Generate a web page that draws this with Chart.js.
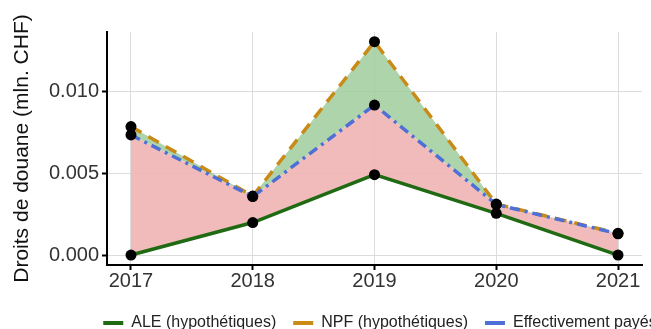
<!DOCTYPE html>
<html>
<head>
<meta charset="utf-8">
<script src="https://cdn.jsdelivr.net/npm/chart.js@4/dist/chart.umd.min.js"></script>
<style>
  html, body { margin: 0; padding: 0; background: #fff; overflow: hidden; width: 651px; height: 329px; }
  #wrap { position: absolute; left: 0; top: 0; width: 760px; height: 341px; }
</style>
</head>
<body>
<div id="wrap"><canvas id="c" width="760" height="341"></canvas></div>
<script>
const years = [2017, 2018, 2019, 2020, 2021];
const ale = [0.0000, 0.00199, 0.00492, 0.00255, 0.0000];
const npf = [0.00786, 0.00361, 0.01306, 0.00312, 0.00133];
const eff = [0.00735, 0.00358, 0.00918, 0.00310, 0.00130];
const yTickValues = [0, 0.005, 0.010];
const seriesLabels = ['ALE (hypothétiques)', 'NPF (hypothétiques)', 'Effectivement payés'];

const FONT = "'Liberation Sans', Arial, sans-serif";
const toPts = arr => arr.map((v, i) => ({x: years[i], y: v}));

const cGreen = '#1f6a12';
const cOrange = '#c98a16';
const cBlue = '#4e6fd6';

new Chart(document.getElementById('c'), {
  type: 'line',
  data: {
    datasets: [
      {
        label: seriesLabels[0], data: toPts(ale), order: 2,
        borderColor: cGreen, borderWidth: 3.5, fill: false,
        pointRadius: 5.5, pointBackgroundColor: '#000', pointBorderWidth: 0, tension: 0
      },
      {
        label: seriesLabels[1], data: toPts(npf), order: 1,
        borderColor: cOrange, borderWidth: 3.5, borderDash: [12, 8],
        fill: {target: 2, above: 'rgba(160,205,158,0.85)', below: 'rgba(160,205,158,0.85)'},
        pointRadius: 5.5, pointBackgroundColor: '#000', pointBorderWidth: 0, tension: 0
      },
      {
        label: seriesLabels[2], data: toPts(eff), order: 0,
        borderColor: cBlue, borderWidth: 3.5, borderDash: [10, 5, 3, 5],
        fill: {target: 0, above: 'rgba(240,180,180,0.9)', below: 'rgba(240,180,180,0.9)'},
        pointRadius: 5.5, pointBackgroundColor: '#000', pointBorderWidth: 0, tension: 0
      }
    ]
  },
  options: {
    responsive: false,
    animation: false,
    layout: { padding: { top: 32, left: 0, right: 0, bottom: 0 } },
    plugins: {
      tooltip: { enabled: false },
      filler: { drawTime: 'beforeDatasetsDraw' },
      legend: {
        position: 'bottom',
        labels: {
          font: { family: FONT, size: 16 },
          color: '#222',
          boxWidth: 20,
          boxHeight: 4,
          padding: 17,
          generateLabels: (chart) => chart.data.datasets.map((d, i) => ({
            text: d.label, fillStyle: d.borderColor, strokeStyle: d.borderColor,
            lineWidth: 0, hidden: false, datasetIndex: i, fontColor: '#222'
          }))
        }
      }
    },
    scales: {
      x: {
        type: 'linear',
        min: 2016.803, max: 2021.197,
        afterBuildTicks: s => { s.ticks = years.map(v => ({value: v})); },
        afterFit: s => { s.height = 33; },
        ticks: { font: { family: FONT, size: 20 }, color: '#333', padding: -1, callback: v => String(v) },
        grid: { color: '#dcdcdc', lineWidth: 1, drawTicks: true, tickLength: 5, tickColor: '#000', tickWidth: 2 },
        border: { color: '#000', width: 2 }
      },
      y: {
        type: 'linear',
        min: -0.00061, max: 0.01365,
        afterBuildTicks: s => { s.ticks = yTickValues.map(v => ({value: v})); },
        afterFit: s => { s.width = 107; },
        ticks: { font: { family: FONT, size: 20 }, color: '#333', padding: 3, callback: v => v.toFixed(3) },
        grid: { color: '#dcdcdc', lineWidth: 1, drawTicks: true, tickLength: 5, tickColor: '#000', tickWidth: 2 },
        border: { color: '#000', width: 2 },
        title: { display: true, text: 'Droits de douane (mln. CHF)', font: { family: FONT, size: 21 }, color: '#111', padding: { top: 10, bottom: 0 } }
      },
      yR: {
        type: 'linear', position: 'right', display: true,
        afterFit: s => { s.width = 118; },
        ticks: { display: false },
        grid: { display: false, drawOnChartArea: false, drawTicks: false },
        border: { display: false }
      }
    }
  }
});
</script>
</body>
</html>
